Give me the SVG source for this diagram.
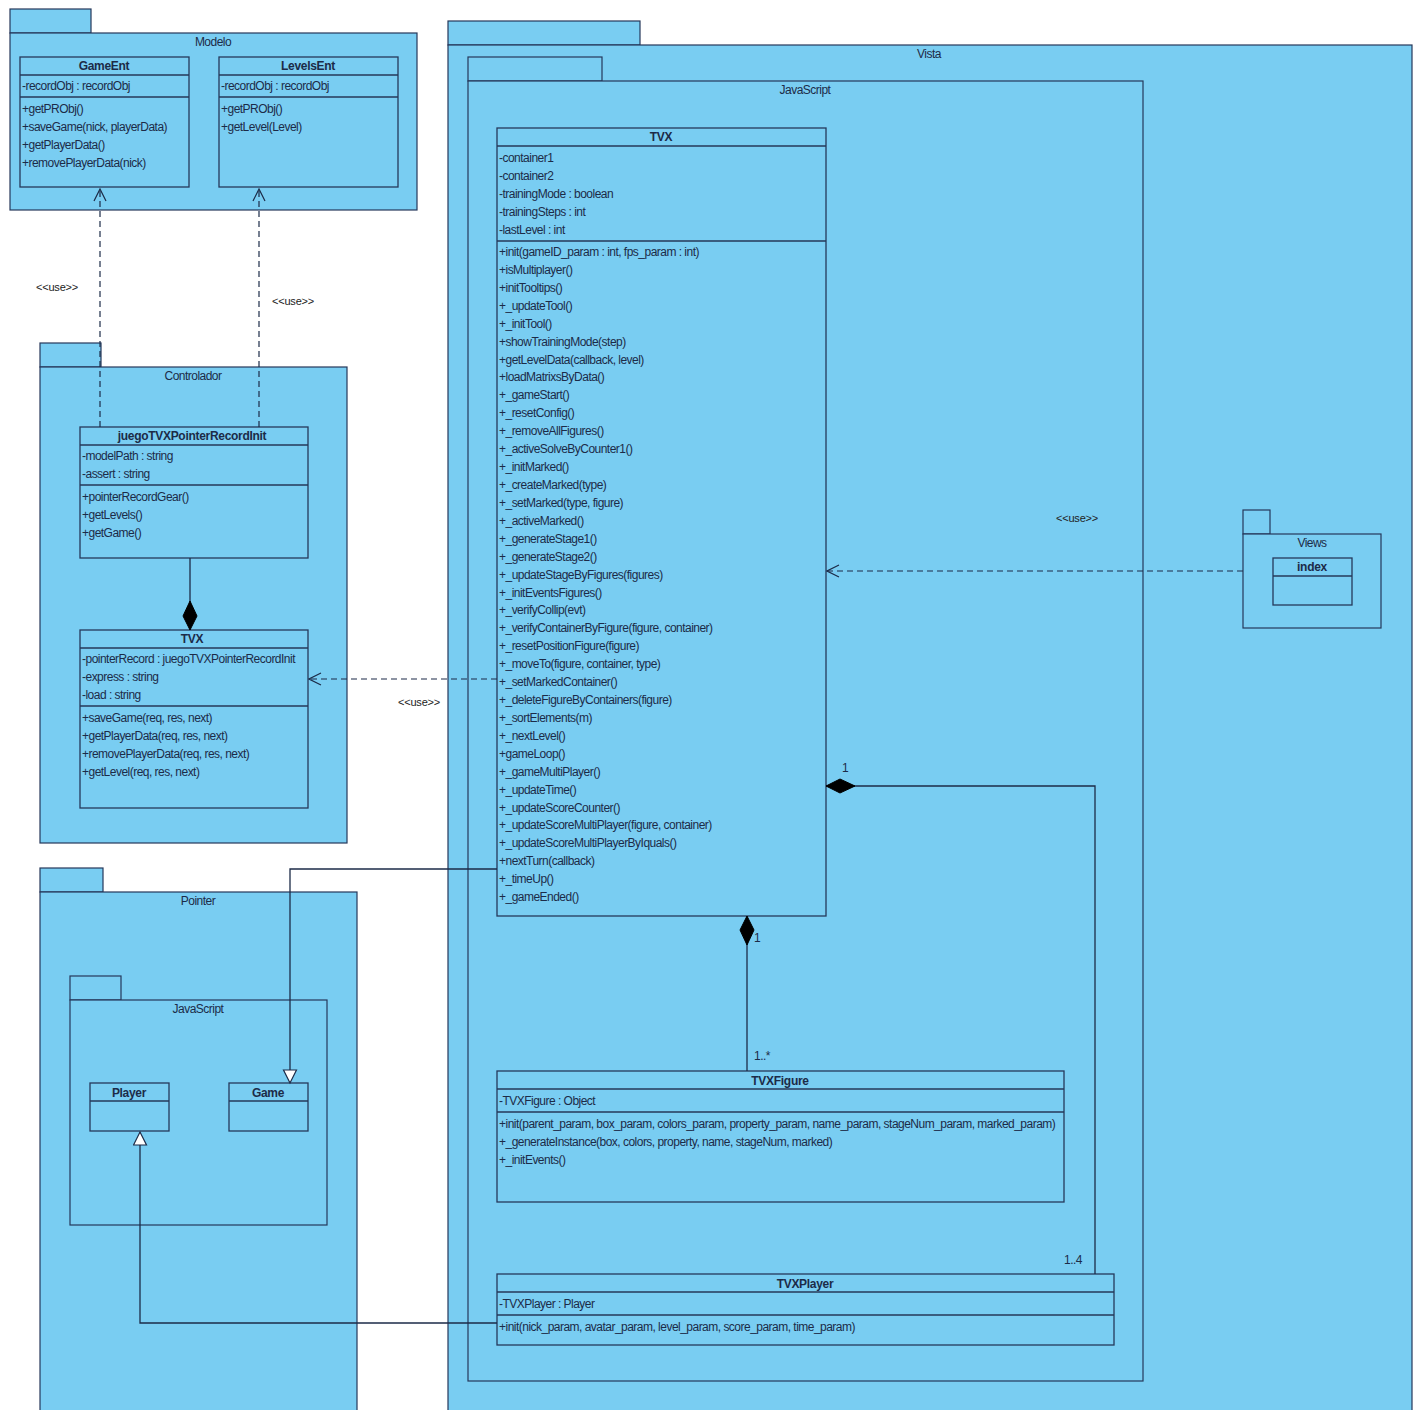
<svg xmlns="http://www.w3.org/2000/svg" width="1415" height="1410" viewBox="0 0 1415 1410">
<style>
.pkg{fill:#79CDF2;stroke:#26385a;stroke-width:1.2}
.cls{fill:#79CDF2;stroke:#26385a;stroke-width:1.3}
.sep{stroke:#26385a;stroke-width:1.3;fill:none}
text{font-family:"Liberation Sans",Arial,sans-serif;font-size:12px;fill:#1c2b48;letter-spacing:-0.52px}
.h{font-weight:bold;text-anchor:middle;letter-spacing:-0.3px}
.pl{text-anchor:middle}
.st{font-size:11px;fill:#222;letter-spacing:-0.2px}
.dep{fill:none;stroke:#1c2b48;stroke-width:1.2;stroke-dasharray:6,4}
.sol{fill:none;stroke:#1c2b48;stroke-width:1.3}
</style>
<defs>
<marker id="open" markerUnits="userSpaceOnUse" markerWidth="14" markerHeight="14" refX="12" refY="6" orient="auto" viewBox="-1 -1 14 14"><path d="M0,0 L12,6 L0,12" fill="none" stroke="#1c2b48" stroke-width="1.2"/></marker>
<marker id="tri" markerUnits="userSpaceOnUse" markerWidth="16" markerHeight="16" refX="13" refY="6.5" orient="auto" viewBox="-1 -1 16 16"><path d="M0,0 L13,6.5 L0,13 Z" fill="#fff" stroke="#1c2b48" stroke-width="1.2"/></marker>
<marker id="dia" markerUnits="userSpaceOnUse" markerWidth="32" markerHeight="16" refX="0" refY="7" orient="auto" viewBox="-1 -1 32 16"><path d="M0,7 L14,0 L29,7 L14,14 Z" fill="#000" stroke="#000" stroke-width="1"/></marker>
</defs>
<rect width="1415" height="1410" fill="#fff"/>

<g id="pkg-modelo">
<rect class="pkg" x="10" y="9" width="81" height="24"/>
<rect class="pkg" x="10" y="33" width="407" height="177"/>
<text class="pl" x="213" y="46">Modelo</text>
</g>
<g id="pkg-controlador">
<rect class="pkg" x="40" y="343" width="61" height="24"/>
<rect class="pkg" x="40" y="367" width="307" height="476"/>
<text class="pl" x="193" y="380">Controlador</text>
</g>
<g id="pkg-pointer">
<rect class="pkg" x="40" y="868" width="63" height="24"/>
<rect class="pkg" x="40" y="892" width="317" height="530"/>
<text class="pl" x="198" y="905">Pointer</text>
</g>
<g id="pkg-pointer-js">
<rect class="pkg" x="70" y="976" width="51" height="24"/>
<rect class="pkg" x="70" y="1000" width="257" height="225"/>
<text class="pl" x="198" y="1013">JavaScript</text>
</g>
<g id="pkg-vista">
<rect class="pkg" x="448" y="21" width="192" height="24"/>
<rect class="pkg" x="448" y="45" width="964" height="1377"/>
<text class="pl" x="929" y="58">Vista</text>
</g>
<g id="pkg-vista-js">
<rect class="pkg" x="468" y="57" width="134" height="24"/>
<rect class="pkg" x="468" y="81" width="675" height="1300"/>
<text class="pl" x="805" y="94">JavaScript</text>
</g>
<g id="pkg-views">
<rect class="pkg" x="1243" y="510" width="27" height="24"/>
<rect class="pkg" x="1243" y="534" width="138" height="94"/>
<text class="pl" x="1312" y="547">Views</text>
</g>

<g id="GameEnt">
<rect class="cls" x="20" y="57" width="169" height="130"/>
<path class="sep" d="M20,75 H189 M20,97 H189"/>
<text class="h" x="104" y="70">GameEnt</text>
<text x="22" y="90">-recordObj : recordObj</text>
<text x="22" y="113">+getPRObj()</text>
<text x="22" y="131">+saveGame(nick, playerData)</text>
<text x="22" y="149">+getPlayerData()</text>
<text x="22" y="167">+removePlayerData(nick)</text>
</g>
<g id="LevelsEnt">
<rect class="cls" x="219" y="57" width="179" height="130"/>
<path class="sep" d="M219,75 H398 M219,97 H398"/>
<text class="h" x="308" y="70">LevelsEnt</text>
<text x="221" y="90">-recordObj : recordObj</text>
<text x="221" y="113">+getPRObj()</text>
<text x="221" y="131">+getLevel(Level)</text>
</g>

<g id="juegoTVXPointerRecordInit">
<rect class="cls" x="80" y="427" width="228" height="131"/>
<path class="sep" d="M80,445 H308 M80,485 H308"/>
<text class="h" x="192" y="440">juegoTVXPointerRecordInit</text>
<text x="82" y="460">-modelPath : string</text>
<text x="82" y="478">-assert : string</text>
<text x="82" y="501">+pointerRecordGear()</text>
<text x="82" y="519">+getLevels()</text>
<text x="82" y="537">+getGame()</text>
</g>
<g id="TVX-controlador">
<rect class="cls" x="80" y="630" width="228" height="178"/>
<path class="sep" d="M80,648 H308 M80,706 H308"/>
<text class="h" x="192" y="643">TVX</text>
<text x="82" y="663">-pointerRecord : juegoTVXPointerRecordInit</text>
<text x="82" y="681">-express : string</text>
<text x="82" y="699">-load : string</text>
<text x="82" y="722">+saveGame(req, res, next)</text>
<text x="82" y="740">+getPlayerData(req, res, next)</text>
<text x="82" y="758">+removePlayerData(req, res, next)</text>
<text x="82" y="776">+getLevel(req, res, next)</text>
</g>

<g id="Player">
<rect class="cls" x="90" y="1083" width="79" height="48"/>
<path class="sep" d="M90,1101 H169"/>
<text class="h" x="129" y="1097">Player</text>
</g>
<g id="Game">
<rect class="cls" x="229" y="1083" width="79" height="48"/>
<path class="sep" d="M229,1101 H308"/>
<text class="h" x="268" y="1097">Game</text>
</g>

<g id="index">
<rect class="cls" x="1273" y="558" width="79" height="47"/>
<path class="sep" d="M1273,576 H1352"/>
<text class="h" x="1312" y="571">index</text>
</g>

<g id="TVX">
<rect class="cls" x="497" y="128" width="329" height="788"/>
<path class="sep" d="M497,146 H826 M497,241 H826"/>
<text class="h" x="661" y="141">TVX</text>
<text x="499"><tspan x="499" y="162">-container1</tspan><tspan x="499" y="180">-container2</tspan><tspan x="499" y="198">-trainingMode : boolean</tspan><tspan x="499" y="216">-trainingSteps : int</tspan><tspan x="499" y="234">-lastLevel : int</tspan></text>
<text x="499"><tspan x="499" y="256">+init(gameID_param : int, fps_param : int)</tspan><tspan x="499" y="273.9">+isMultiplayer()</tspan><tspan x="499" y="291.8">+initTooltips()</tspan><tspan x="499" y="309.8">+_updateTool()</tspan><tspan x="499" y="327.7">+_initTool()</tspan><tspan x="499" y="345.6">+showTrainingMode(step)</tspan><tspan x="499" y="363.5">+getLevelData(callback, level)</tspan><tspan x="499" y="381.4">+loadMatrixsByData()</tspan><tspan x="499" y="399.4">+_gameStart()</tspan><tspan x="499" y="417.3">+_resetConfig()</tspan><tspan x="499" y="435.2">+_removeAllFigures()</tspan><tspan x="499" y="453.1">+_activeSolveByCounter1()</tspan><tspan x="499" y="471">+_initMarked()</tspan><tspan x="499" y="489">+_createMarked(type)</tspan><tspan x="499" y="506.9">+_setMarked(type, figure)</tspan><tspan x="499" y="524.8">+_activeMarked()</tspan><tspan x="499" y="542.7">+_generateStage1()</tspan><tspan x="499" y="560.6">+_generateStage2()</tspan><tspan x="499" y="578.6">+_updateStageByFigures(figures)</tspan><tspan x="499" y="596.5">+_initEventsFigures()</tspan><tspan x="499" y="614.4">+_verifyCollip(evt)</tspan><tspan x="499" y="632.3">+_verifyContainerByFigure(figure, container)</tspan><tspan x="499" y="650.2">+_resetPositionFigure(figure)</tspan><tspan x="499" y="668.2">+_moveTo(figure, container, type)</tspan><tspan x="499" y="686.1">+_setMarkedContainer()</tspan><tspan x="499" y="704">+_deleteFigureByContainers(figure)</tspan><tspan x="499" y="721.9">+_sortElements(m)</tspan><tspan x="499" y="739.8">+_nextLevel()</tspan><tspan x="499" y="757.8">+gameLoop()</tspan><tspan x="499" y="775.7">+_gameMultiPlayer()</tspan><tspan x="499" y="793.6">+_updateTime()</tspan><tspan x="499" y="811.5">+_updateScoreCounter()</tspan><tspan x="499" y="829.4">+_updateScoreMultiPlayer(figure, container)</tspan><tspan x="499" y="847.4">+_updateScoreMultiPlayerByIquals()</tspan><tspan x="499" y="865.3">+nextTurn(callback)</tspan><tspan x="499" y="883.2">+_timeUp()</tspan><tspan x="499" y="901.1">+_gameEnded()</tspan></text>
</g>

<g id="TVXFigure">
<rect class="cls" x="497" y="1071" width="567" height="131"/>
<path class="sep" d="M497,1089 H1064 M497,1112 H1064"/>
<text class="h" x="780" y="1085">TVXFigure</text>
<text x="499" y="1105">-TVXFigure : Object</text>
<text x="499" y="1128">+init(parent_param, box_param, colors_param, property_param, name_param, stageNum_param, marked_param)</text>
<text x="499" y="1146">+_generateInstance(box, colors, property, name, stageNum, marked)</text>
<text x="499" y="1164">+_initEvents()</text>
</g>
<g id="TVXPlayer">
<rect class="cls" x="497" y="1274" width="617" height="71"/>
<path class="sep" d="M497,1292 H1114 M497,1315 H1114"/>
<text class="h" x="805" y="1288">TVXPlayer</text>
<text x="499" y="1308">-TVXPlayer : Player</text>
<text x="499" y="1331">+init(nick_param, avatar_param, level_param, score_param, time_param)</text>
</g>

<g id="connectors">
<path class="dep" d="M100,427 V189" marker-end="url(#open)"/>
<path class="dep" d="M259,427 V189" marker-end="url(#open)"/>
<path class="dep" d="M497,679 H309" marker-end="url(#open)"/>
<path class="dep" d="M1243,571 H827" marker-end="url(#open)"/>
<path class="sol" d="M497,869 H290 V1083" marker-end="url(#tri)"/>
<path class="sol" d="M497,1323 H140 V1132" marker-end="url(#tri)"/>
<path class="sol" d="M190,630 V558" marker-start="url(#dia)"/>
<path class="sol" d="M747,916 V1071" marker-start="url(#dia)"/>
<path class="sol" d="M826,786 H1095 V1274" marker-start="url(#dia)"/>
<text class="st" x="36" y="291">&lt;&lt;use&gt;&gt;</text>
<text class="st" x="272" y="305">&lt;&lt;use&gt;&gt;</text>
<text class="st" x="398" y="706">&lt;&lt;use&gt;&gt;</text>
<text class="st" x="1056" y="522">&lt;&lt;use&gt;&gt;</text>
<text x="754" y="942">1</text>
<text x="754" y="1060">1..*</text>
<text x="842" y="772">1</text>
<text x="1064" y="1264">1..4</text>
</g>
</svg>
